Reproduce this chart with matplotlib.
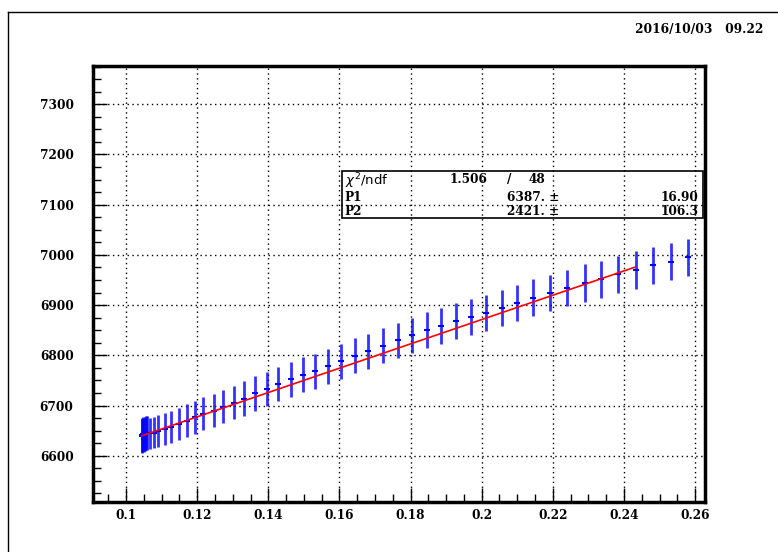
import matplotlib
matplotlib.use("Agg")
import matplotlib.pyplot as plt
from matplotlib.lines import Line2D
from matplotlib.patches import Rectangle
from matplotlib.ticker import MultipleLocator

# measured points
x = [0.1044, 0.1046, 0.1048, 0.1050, 0.1052, 0.1055, 0.1058,
     0.1067, 0.1079, 0.1090, 0.1110, 0.1127, 0.1149, 0.1172, 0.1194, 0.1217, 0.1247,
     0.1273, 0.1304, 0.1332, 0.1363,
     0.1397, 0.1427, 0.1464, 0.1498, 0.1531, 0.1568, 0.1605, 0.1644, 0.1681, 0.1723,
     0.1765, 0.1804, 0.1846, 0.1886, 0.1928, 0.1970, 0.2012, 0.2057, 0.2100, 0.2145,
     0.2192, 0.2240, 0.2291, 0.2336, 0.2384, 0.2434, 0.2482, 0.2533, 0.2580]
y = [6640, 6641, 6643, 6642, 6644, 6645, 6645,
     6645, 6646, 6650, 6654, 6657, 6663, 6670, 6677, 6684, 6690,
     6698, 6706, 6714, 6724,
     6733, 6743, 6752, 6761, 6768, 6778, 6788, 6799, 6808, 6819,
     6830, 6840, 6850, 6858, 6868, 6877, 6885, 6895, 6905, 6915,
     6924, 6934, 6944, 6951, 6961, 6970, 6979, 6986, 6995]
yerr = [34, 34, 34, 34, 34, 34, 34,
        31, 31, 32, 32, 32, 32, 33, 33, 33, 33,
        33, 33, 34, 34,
        34, 34, 34, 35, 35, 35, 35, 35, 35, 35,
        35, 35, 36, 36, 36, 36, 36, 36, 36, 36,
        36, 36, 37, 37, 37, 37, 37, 37, 37]

# fit result pol1
p1 = 6387.
p2 = 2421.
fit_range = [0.1044, 0.2432]

fig = plt.figure(figsize=(7.78, 5.52), dpi=100)
ax = fig.add_axes([0.1195, 0.0906, 0.7867, 0.7898])

ax.errorbar(x, y, yerr=yerr, fmt='none', ecolor='#0000ff', elinewidth=2.0,
            capsize=0, alpha=0.8, zorder=3)
ax.plot(x, y, '_', color='#0000ff', ms=4, mew=1.5, zorder=4)
fx = [fit_range[0] + i * (fit_range[1] - fit_range[0]) / 100 for i in range(101)]
ax.plot(fx, [p1 + p2 * v for v in fx], color='red', lw=1.2, zorder=5)

ax.set_xlim(0.0907, 0.2628)
ax.set_ylim(6508, 7376)
ax.xaxis.set_major_locator(MultipleLocator(0.02))
ax.xaxis.set_minor_locator(MultipleLocator(0.005))
ax.yaxis.set_major_locator(MultipleLocator(100))
ax.yaxis.set_minor_locator(MultipleLocator(25))
ax.set_xticks([0.1, 0.12, 0.14, 0.16, 0.18, 0.2, 0.22, 0.24, 0.26])
ax.set_xticklabels(['0.1', '0.12', '0.14', '0.16', '0.18', '0.2', '0.22', '0.24', '0.26'])
ax.set_yticks([6600, 6700, 6800, 6900, 7000, 7100, 7200, 7300])
ax.set_yticklabels(['6600', '6700', '6800', '6900', '7000', '7100', '7200', '7300'])

ax.grid(True, which='major', color='black', linestyle=(0, (1, 2.5)), linewidth=1.0)
ax.tick_params(which='major', direction='in', length=10, width=1, color='black')
ax.tick_params(which='minor', direction='in', length=6, width=1, color='black')
ax.tick_params(axis='y', pad=14)
ax.tick_params(axis='x', pad=5)
for lab in ax.get_xticklabels() + ax.get_yticklabels():
    lab.set_fontfamily('DejaVu Serif')
    lab.set_fontweight('bold')
    lab.set_fontsize(8.7)
for s in ax.spines.values():
    s.set_linewidth(2.5)

# canvas border
fig.add_artist(Line2D([8 / 778, 1], [1 - 12 / 552, 1 - 12 / 552], color='black', lw=1))
fig.add_artist(Line2D([8 / 778, 8 / 778], [0, 1 - 12 / 552], color='black', lw=1))

fig.text(0.981, 0.9457, '2016/10/03   09.22', ha='right', va='center',
         family='DejaVu Serif', weight='bold', fontsize=8.8)

# stats box
fig.add_artist(Rectangle((342 / 778, 1 - 218 / 552), 361 / 778, 47 / 552,
                         fill=False, edgecolor='black', lw=1.2))
fig.text(0.443, 0.672, r'$\chi^2$/ndf', ha='left', va='center', fontsize=9.5,
         family='DejaVu Sans')
fig.text(0.578, 0.674, '1.506', ha='left', va='center', family='DejaVu Serif',
         weight='bold', fontsize=8.7)
fig.text(0.652, 0.674, '/', ha='left', va='center', family='DejaVu Serif',
         weight='bold', fontsize=8.7)
fig.text(0.679, 0.674, '48', ha='left', va='center', family='DejaVu Serif',
         weight='bold', fontsize=8.7)
for name, val, err, yy in [('P1', '6387.', '16.90', 0.643), ('P2', '2421.', '106.3', 0.616)]:
    fig.text(0.443, yy, name, ha='left', va='center', family='DejaVu Serif',
             weight='bold', fontsize=8.7)
    fig.text(0.652, yy, val + ' \u00b1', ha='left', va='center', family='DejaVu Serif',
             weight='bold', fontsize=8.7)
    fig.text(0.898, yy, err, ha='right', va='center', family='DejaVu Serif',
             weight='bold', fontsize=8.7)

fig.savefig('out.png', dpi=100)
